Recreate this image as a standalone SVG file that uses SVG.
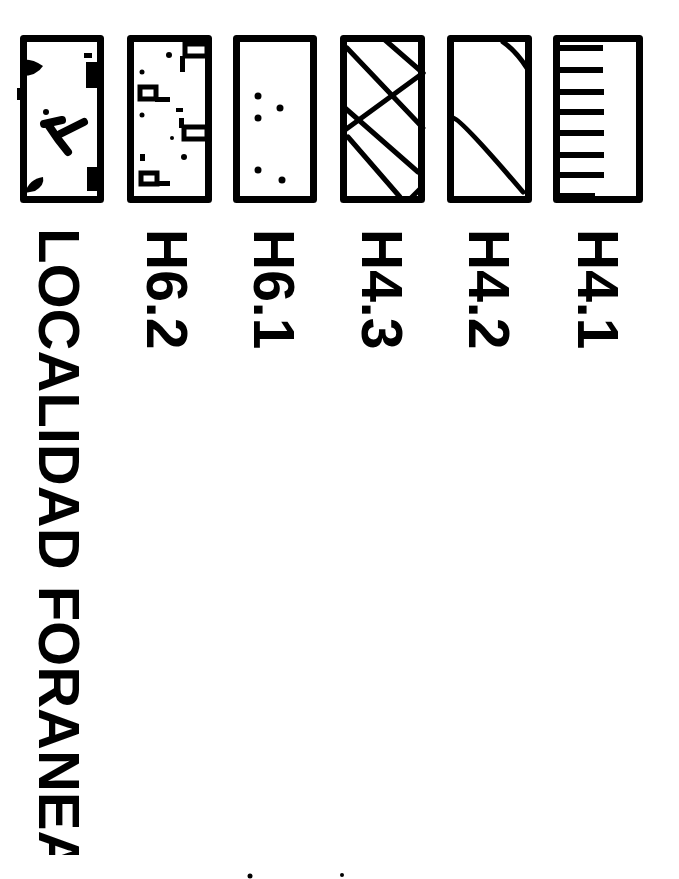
<svg xmlns="http://www.w3.org/2000/svg" width="679" height="879" viewBox="0 0 679 879">
<style>
  .frame{fill:#fff;stroke:#000;stroke-width:7;stroke-linejoin:round}
  .hatch{fill:none;stroke:#000;stroke-width:5;stroke-linecap:round}
  .ink{fill:#000}
  .lbl{font-family:"Liberation Sans",Arial,sans-serif;font-weight:bold;font-size:57px;fill:#000}
  .small{fill:#fff;stroke:#000;stroke-width:5}
</style>
<defs>
  <clipPath id="cutA" clipPathUnits="userSpaceOnUse"><rect x="0" y="0" width="679" height="855"/></clipPath>
</defs>
<rect width="679" height="879" fill="#fff"/>

<g id="item-localidad">
  <rect class="frame" x="23.5" y="38.5" width="77" height="161"/>
  <g class="ink">
    <path d="M21,60 q10,-2 22,6 q-6,10 -22,10 z"/>
    <rect x="86" y="62" width="11" height="26"/>
    <rect x="84" y="53" width="8" height="5"/>
    <rect x="17" y="88" width="8" height="12"/>
    <path d="M25,193 q4,-14 18,-16 q2,8 -8,14 z"/>
    <rect x="87" y="167" width="10" height="24"/>
  </g>
  <g class="hatch" style="stroke-width:8">
    <path d="M44,124 L62,120"/>
    <path d="M49,126 Q58,140 68,152"/>
    <path d="M60,134 L84,122"/>
  </g>
  <circle class="ink" cx="46" cy="112" r="3"/>
  <g clip-path="url(#cutA)">
    <text class="lbl" style="font-size:58px" transform="translate(39,228) rotate(90)">LOCALIDAD FORANEA</text>
  </g>
</g>

<g id="item-h62">
  <rect class="frame" x="130.5" y="38.5" width="78" height="161"/>
  <rect class="small" x="185" y="44" width="22" height="12"/>
  <rect class="small" x="184" y="127" width="23" height="12"/>
  <rect class="small" x="140" y="87" width="16" height="12"/>
  <rect class="small" x="141" y="173" width="16" height="11"/>
  <g class="ink">
    <rect x="180" y="56" width="5" height="16"/>
    <rect x="179" y="118" width="5" height="10"/>
    <rect x="155" y="97" width="15" height="5"/>
    <rect x="155" y="181" width="15" height="5"/>
    <circle cx="169" cy="55" r="3"/>
    <circle cx="142" cy="72" r="2.5"/>
    <rect x="176" y="108" width="7" height="4"/>
    <circle cx="172" cy="138" r="2"/>
    <circle cx="142" cy="115" r="2.5"/>
    <rect x="140" y="154" width="5" height="7"/>
    <circle cx="184" cy="157" r="3"/>
  </g>
  <text class="lbl" transform="translate(147,229) rotate(90)">H6.2</text>
</g>

<g id="item-h61">
  <rect class="frame" x="236.5" y="38.5" width="77" height="161"/>
  <g class="ink">
    <circle cx="258" cy="96" r="3.5"/>
    <circle cx="280" cy="108" r="3.5"/>
    <circle cx="258" cy="118" r="3.5"/>
    <circle cx="258" cy="170" r="3.5"/>
    <circle cx="282" cy="180" r="3.5"/>
  </g>
  <text class="lbl" transform="translate(254,229) rotate(90)">H6.1</text>
</g>

<g id="item-h43">
  <rect class="frame" x="343.5" y="38.5" width="78" height="161"/>
  <g class="hatch">
    <path d="M347,48 L423,128"/>
    <path d="M423,73 L345,130"/>
    <path d="M385,40 L423,73"/>
    <path d="M345,108 L418,172"/>
    <path d="M348,137 L400,197"/>
    <path d="M412,197 L422,187"/>
  </g>
  <text class="lbl" transform="translate(362,229) rotate(90)">H4.3</text>
</g>

<g id="item-h42">
  <rect class="frame" x="450.5" y="38.5" width="78" height="161"/>
  <g class="hatch">
    <path d="M453,118 Q460,118 523,192"/>
    <path d="M503,42 Q515,50 527,68"/>
  </g>
  <text class="lbl" transform="translate(469,229) rotate(90)">H4.2</text>
</g>

<g id="item-h41">
  <rect class="frame" x="556.5" y="38.5" width="83" height="161"/>
  <g class="hatch" style="stroke-width:6;stroke-linecap:butt">
    <path d="M558,48 H603"/>
    <path d="M558,70 H603"/>
    <path d="M558,92 H604"/>
    <path d="M558,112 H604"/>
    <path d="M558,133 H604"/>
    <path d="M558,155 H604"/>
    <path d="M558,175 H604"/>
  </g>
  <rect class="ink" x="555" y="193" width="40" height="9"/>
  <text class="lbl" transform="translate(578,229) rotate(90)">H4.1</text>
</g>

<g id="specks" class="ink">
  <circle cx="250" cy="876" r="2.5"/>
  <circle cx="342" cy="875" r="2"/>
</g>
</svg>
